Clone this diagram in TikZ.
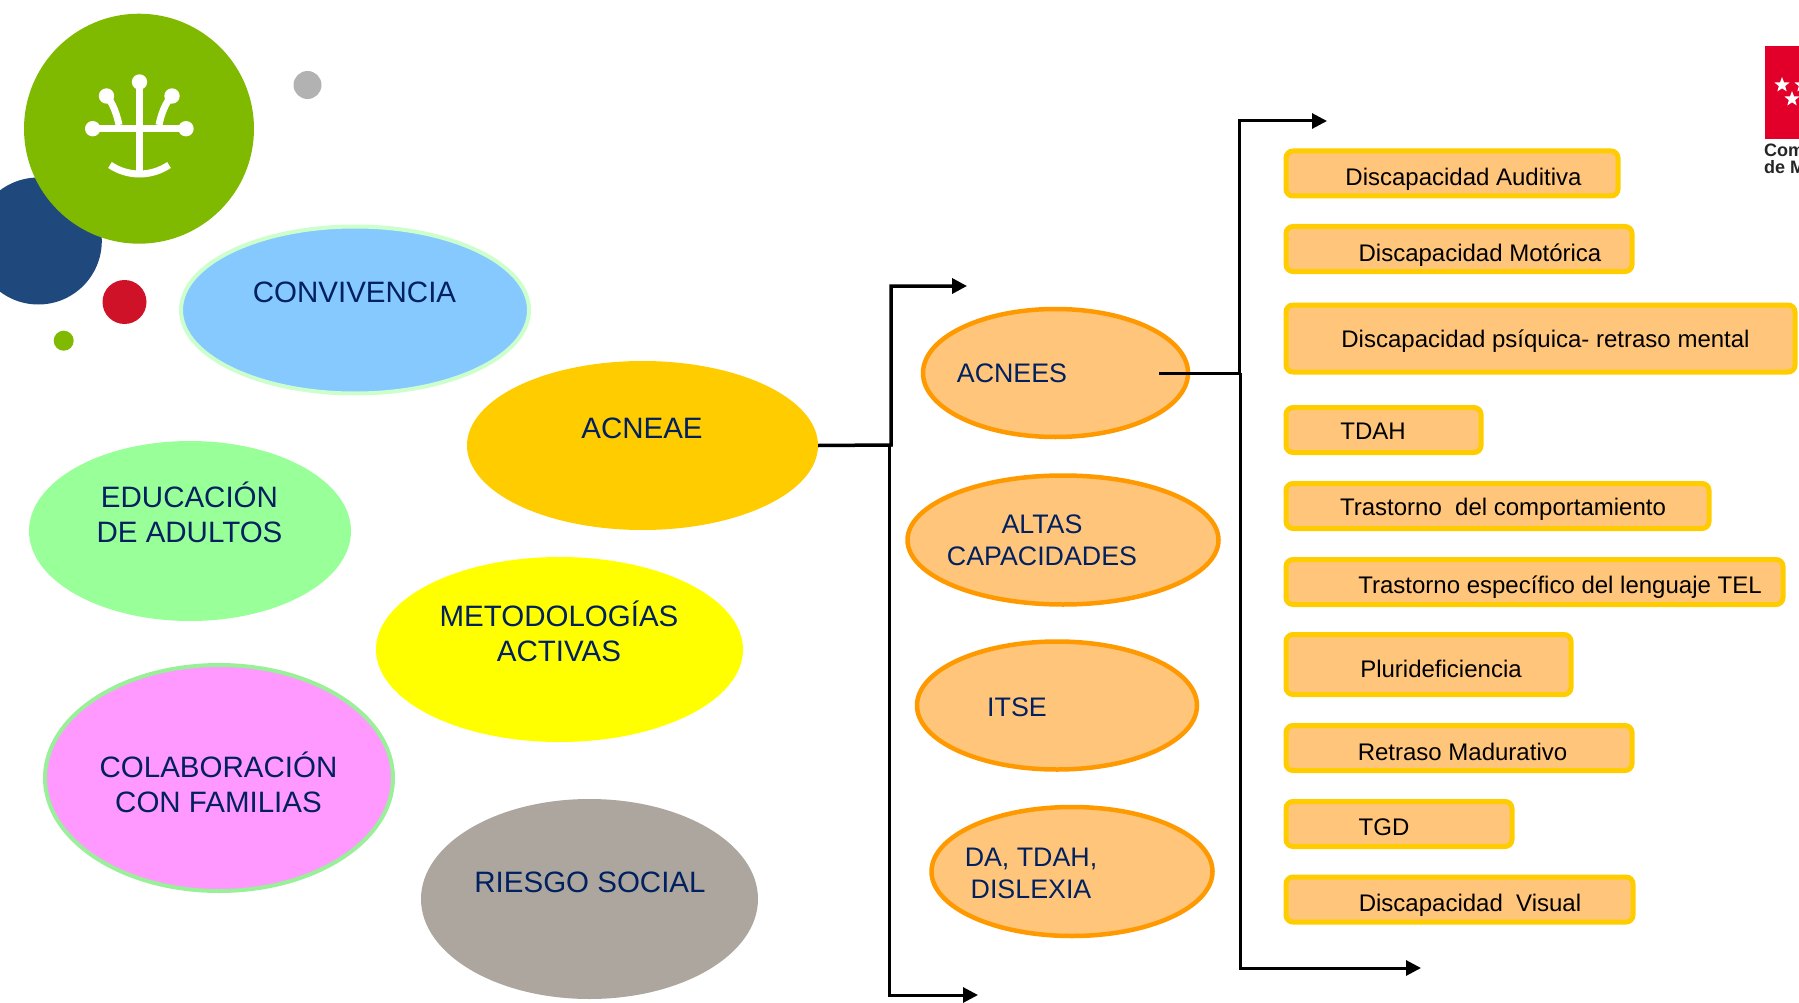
\documentclass[tikz,border=0pt]{standalone}
\usepackage{fontspec}
\setmainfont{Liberation Sans}
\usetikzlibrary{arrows.meta, shapes.geometric}
\definecolor{navytext}{HTML}{002060}
\definecolor{softorange}{HTML}{FFC57A}
\definecolor{strongorange}{HTML}{FF9900}
\definecolor{gold}{HTML}{FFCC00}
\definecolor{logogreen}{HTML}{7FBA00}
\definecolor{logoblue}{HTML}{1F497D}
\definecolor{logored}{HTML}{CF1228}
\definecolor{logogrey}{HTML}{B2B2B2}
\definecolor{flagred}{HTML}{E2002A}
\definecolor{skyfill}{HTML}{85C9FF}
\definecolor{palegreen}{HTML}{CCFFCC}
\definecolor{mintfill}{HTML}{99FF99}
\definecolor{purefill}{HTML}{FFFF00}
\definecolor{pinkfill}{HTML}{FF99FF}
\definecolor{pinkedge}{HTML}{99F099}
\definecolor{stonefill}{HTML}{ADA69E}
\tikzset{
  blob/.style={ellipse, inner sep=0pt, draw=none},
  kind/.style={ellipse, inner sep=0pt, fill=softorange, draw=strongorange, line width=4.5pt},
  stadium/.style={rectangle, rounded corners=7pt, inner sep=0pt, fill=softorange, draw=gold, line width=5pt},
  bigtext/.style={inner sep=0pt, text=navytext, align=center, font=\fontsize{29.5}{35}\selectfont},
  kindtext/.style={inner sep=0pt, text=navytext, align=center, font=\fontsize{26.8}{32}\selectfont},
  boxtext/.style={inner sep=0pt, text=black, font=\fontsize{24}{29}\selectfont},
  link/.style={draw=black, line width=3pt, -{Triangle[length=15pt, width=15pt]}},
  dotline/.style={draw=white, line width=7pt},
  flagstar/.style={star, star points=5, star point ratio=2.4, fill=white, inner sep=0pt, minimum size=16pt},
  flagtext/.style={inner sep=0pt, anchor=base west, font=\bfseries\fontsize{18}{18}\selectfont, text=black!85}
}
\begin{document}
\begin{tikzpicture}[x=1pt, y=-1pt]
\useasboundingbox (0,0) rectangle (1799,1003);
% logo circles
\fill [logoblue] (38.3,241) circle [radius=63.5];
\fill [logogreen] (139,128.7) circle [radius=115];
\fill [logored] (124.5,302) circle [radius=22];
\fill [logogrey] (307.5,85) circle [radius=14];
\fill [logogreen] (63.7,340.7) circle [radius=10];
% white sign
\draw [dotline] (139.5,82) -- (139.5,172);
\draw [dotline] (92.7,128.7) -- (186,128.7);
\draw [dotline] (106.5,96) .. controls (113,103) and (117,115) .. (119,125);
\draw [dotline] (172,96) .. controls (165,103) and (161,115) .. (159,125);
\draw [dotline] (110,165) .. controls (128,177) and (151,177) .. (169,165);
\fill [white] (139.5,82) circle [radius=7.7];
\fill [white] (106.5,96) circle [radius=7.7];
\fill [white] (172,96) circle [radius=7.7];
\fill [white] (92.7,128.7) circle [radius=7.7];
\fill [white] (186,128.7) circle [radius=7.7];
% flag
\fill [flagred] (1764.7,46) rectangle (1799,139);
\node [flagstar] (starone) at (1782,85) {};
\node [flagstar] (startwo) at (1792,99) {};
\node [flagstar] (starthree) at (1802,85) {};
\node [flagtext] (flagone) at (1764,157) {Comunidad};
\node [flagtext] (flagtwo) at (1764,174) {de Madrid};
% topics
\node [blob, fill=skyfill, draw=palegreen, line width=4pt, minimum width=348pt, minimum height=167pt] (convivencia) at (355,310) {};
\node [bigtext] (convivenciatext) at (354.5,292.5) {CONVIVENCIA};
\node [blob, fill=gold, minimum width=351pt, minimum height=169pt] (acneae) at (642.5,445.5) {};
\node [bigtext] (acneaetext) at (642,428) {ACNEAE};
\node [blob, fill=mintfill, minimum width=322pt, minimum height=180pt] (adultos) at (190,531) {};
\node [bigtext] (adultostext) at (189.5,512) {EDUCACIÓN\\DE ADULTOS};
\node [blob, fill=purefill, minimum width=367pt, minimum height=185pt] (metodologias) at (559.5,649.5) {};
\node [bigtext] (metodologiastext) at (559,631) {METODOLOGÍAS\\ACTIVAS};
\node [blob, fill=pinkfill, draw=pinkedge, line width=4pt, minimum width=348pt, minimum height=226pt] (familias) at (219,778) {};
\node [bigtext] (familiastext) at (218.5,782) {COLABORACIÓN\\CON FAMILIAS};
\node [blob, fill=stonefill, minimum width=337pt, minimum height=200pt] (riesgo) at (589.5,899) {};
\node [bigtext] (riesgotext) at (590,882.5) {RIESGO SOCIAL};
% kinds
\node [kind, minimum width=265pt, minimum height=128pt] (acnees) at (1055.5,373) {};
\node [kindtext] (acneestext) at (1012,373.5) {ACNEES};
\node [kind, minimum width=311pt, minimum height=129pt] (altas) at (1063,540) {};
\node [kindtext] (altastext) at (1042,540.5) {ALTAS\\CAPACIDADES};
\node [kind, minimum width=280pt, minimum height=128pt] (itse) at (1057,705.5) {};
\node [kindtext] (itsetext) at (1017,707) {ITSE};
\node [kind, minimum width=281pt, minimum height=129pt] (dislexia) at (1072,871.5) {};
\node [kindtext] (dislexiatext) at (1031,873.5) {DA, TDAH,\\DISLEXIA};
% boxes
\node [stadium, minimum width=332pt, minimum height=45pt] (auditiva) at (1452,173.5) {};
\node [boxtext] (auditivatext) at (1463.5,179) {Discapacidad Auditiva};
\node [stadium, minimum width=346pt, minimum height=45pt] (motorica) at (1459,249) {};
\node [boxtext] (motoricatext) at (1480,255) {Discapacidad Motórica};
\node [stadium, minimum width=509pt, minimum height=67pt] (psiquica) at (1540.5,338.5) {};
\node [boxtext] (psiquicatext) at (1545.5,341) {Discapacidad psíquica- retraso mental};
\node [stadium, minimum width=195pt, minimum height=45pt] (tdah) at (1383.5,430) {};
\node [boxtext] (tdahtext) at (1373,431) {TDAH};
\node [stadium, minimum width=423pt, minimum height=45pt] (comportamiento) at (1497.5,506) {};
\node [boxtext] (comportamientotext) at (1503,509) {Trastorno\ \ del comportamiento};
\node [stadium, minimum width=497pt, minimum height=45pt] (lenguaje) at (1534.5,582) {};
\node [boxtext] (lenguajetext) at (1560,587) {Trastorno específico del lenguaje TEL};
\node [stadium, minimum width=285pt, minimum height=60pt] (pluri) at (1428.5,664.5) {};
\node [boxtext] (pluritext) at (1441,669) {Plurideficiencia};
\node [stadium, minimum width=346pt, minimum height=45pt] (madurativo) at (1459,748) {};
\node [boxtext] (madurativotext) at (1462.5,751.5) {Retraso Madurativo};
\node [stadium, minimum width=226pt, minimum height=45pt] (tgd) at (1399,824) {};
\node [boxtext] (tgdtext) at (1384,827) {TGD};
\node [stadium, minimum width=347pt, minimum height=45pt] (visual) at (1459.5,899.5) {};
\node [boxtext] (visualtext) at (1470,905) {Discapacidad\ \ Visual};
% connectors
\coordinate (topone) at (967,286);
\coordinate (bottomone) at (978,995);
\coordinate (acneesout) at (1159,373);
\coordinate (toptwo) at (1327,121);
\coordinate (bottomtwo) at (1421,968);
\draw [link, line width=3.5pt] (acneae.east) -- (891,445) -- (891,286) -- (topone);
\draw [link] (889,445) -- (889,995) -- (bottomone);
\draw [link] (acneesout) -- (1239,373) -- (1239,121) -- (toptwo);
\draw [link] (1240,373) -- (1240,968) -- (bottomtwo);
\end{tikzpicture}
\end{document}
